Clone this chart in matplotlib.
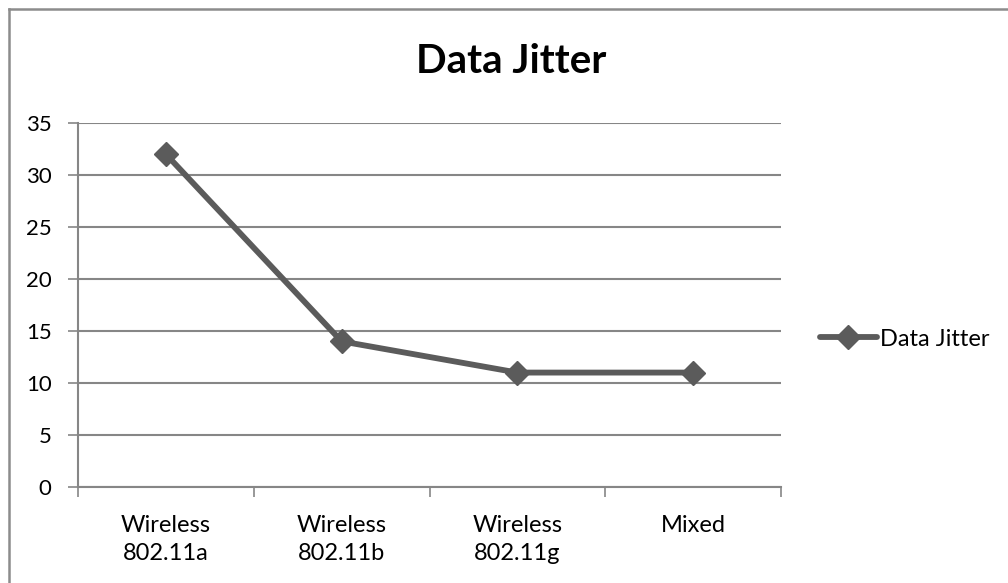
import matplotlib.pyplot as plt
from matplotlib.lines import Line2D

plt.rcParams['font.family'] = ['Lato', 'DejaVu Sans']

categories = ["Wireless\n802.11a", "Wireless\n802.11b", "Wireless\n802.11g", "Mixed"]
jitter = [32, 14, 11, 11]

grid_col = "#868686"
line_col = "#5b5b5b"

fig = plt.figure(figsize=(10.08, 5.83), dpi=100)
ax = fig.add_axes([0.0774, 0.1647, 0.6974, 0.6244])

x = list(range(len(categories)))
ax.plot(x, jitter, color=line_col, lw=4.2, marker="D", ms=12,
        label="Data Jitter", solid_joinstyle="round", solid_capstyle="round")

ax.set_xlim(-0.5, len(categories) - 0.5)
ax.set_ylim(0, 35)
ax.set_yticks(range(0, 36, 5))
ax.set_xticks(x)
ax.set_xticklabels(categories, fontsize=17, linespacing=1.4)
ax.set_xticks([i - 0.5 for i in range(len(categories) + 1)], minor=True)
ax.tick_params(axis="x", which="major", length=0, pad=20)
ax.tick_params(axis="x", which="minor", length=7, width=1.2, color=grid_col, direction="out")
ax.tick_params(axis="y", length=7, width=1.2, color=grid_col, labelsize=16, pad=12)

ax.yaxis.grid(True, color=grid_col, lw=1.5)
ax.set_axisbelow(True)
for s in ["top", "right"]:
    ax.spines[s].set_visible(False)
for s in ["left", "bottom"]:
    ax.spines[s].set_color(grid_col)
    ax.spines[s].set_linewidth(1.5)

fig.text(0.507, 0.875, "Data Jitter", ha="center", va="baseline",
         fontsize=29, fontweight="bold")

leg = fig.legend(loc="center left", bbox_to_anchor=(0.804, 0.4185), frameon=False,
                 fontsize=17, handlelength=2.4, handletextpad=0.15, borderaxespad=0)

# outer chart border (top and left edges visible)
fig.add_artist(Line2D([0.0085, 0.0085], [0, 0.984], color="#8c8c8c", lw=1.8, transform=fig.transFigure))
fig.add_artist(Line2D([0.0085, 1.0], [0.984, 0.984], color="#8c8c8c", lw=1.8, transform=fig.transFigure))

fig.savefig("out.png", dpi=100)
